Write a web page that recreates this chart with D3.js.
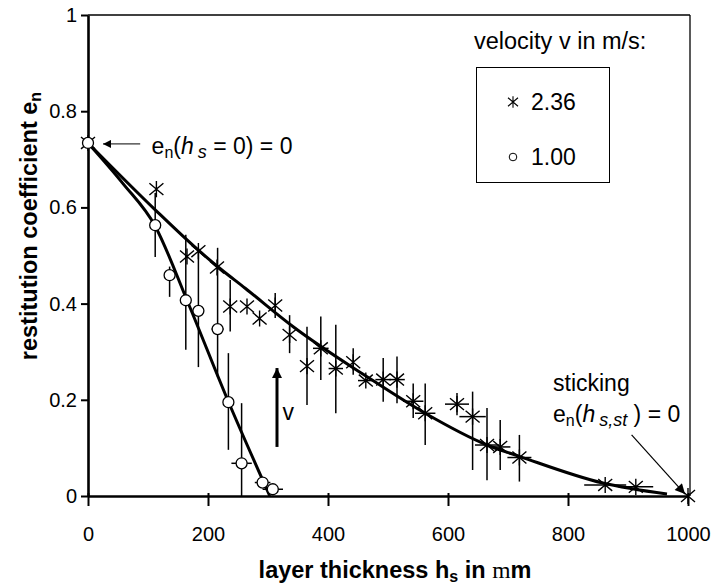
<!DOCTYPE html>
<html>
<head>
<meta charset="utf-8">
<script src="https://cdnjs.cloudflare.com/ajax/libs/d3/7.8.5/d3.min.js"></script>
<style>
    body { margin: 0; background: #fff; }
    text { font-family: "Liberation Sans", Arial, sans-serif; fill: #000; }
</style>
</head>
<body>
<div id="chart"></div>
<script>

// v = 2.36 m/s (asterisks)
var starX  = [0, 114, 165, 184, 215, 237, 265, 286, 312, 336, 365, 388, 413, 442, 463, 492, 515, 542, 562, 615, 641, 665, 687, 719, 862, 913, 1000];
var starY  = [0.734, 0.638, 0.498, 0.509, 0.475, 0.394, 0.394, 0.369, 0.396, 0.335, 0.270, 0.307, 0.265, 0.278, 0.240, 0.242, 0.242, 0.197, 0.172, 0.191, 0.165, 0.106, 0.102, 0.080, 0.023, 0.019, 0];
var starLo = [null, null, null, null, null, 0.342, null, null, 0.370, 0.297, 0.189, 0.241, 0.172, 0.252, null, 0.196, 0.193, 0.162, 0.106, 0.168, 0.054, 0.033, 0.054, 0.030, null, null, null];
var starHi = [null, null, null, null, null, 0.449, null, null, 0.422, 0.376, 0.352, 0.373, 0.356, 0.307, null, 0.287, 0.290, 0.234, 0.234, 0.214, 0.217, 0.183, 0.158, 0.127, null, null, null];
var starXErr = [0, 0, 0, 0, 0, 0, 0, 0, 0, 0, 0, 13, 12, 0, 13, 13, 13, 17, 17, 20, 22, 20, 17, 20, 35, 29, 0];

// v = 1.00 m/s (circles)
var circX  = [0, 112, 136, 163, 184, 216, 234, 256, 291, 308];
var circY  = [0.734, 0.563, 0.459, 0.407, 0.385, 0.347, 0.195, 0.068, 0.028, 0.014];
var circLo = [null, 0.497, 0.414, 0.304, 0.268, 0.247, 0.096, 0, null, null];
var circHi = [null, 0.630, 0.477, 0.543, 0.516, 0.516, 0.297, 0.193, null, null];
var circXErr = [0, 0, 0, 8, 0, 10, 0, 17, 13, 17];

// fitted curves
var fitStarX = [0, 112, 184, 220, 262, 342, 465, 562, 665, 720, 858, 965];
var fitStarY = [0.734, 0.595, 0.511, 0.473, 0.432, 0.352, 0.248, 0.172, 0.106, 0.082, 0.027, 0.004];
var fitCircX = [0, 58, 112, 165, 233, 303];
var fitCircY = [0.734, 0.650, 0.561, 0.407, 0.199, 0];

var xTicks = [0, 200, 400, 600, 800, 1000];
var yTicks = [0, 0.2, 0.4, 0.6, 0.8, 1];
var yTickLabels = ["0", "0.2", "0.4", "0.6", "0.8", "1"];
var legendLabels = ["2.36", "1.00"];


var Chart = (function() {

    var width = 714,
        height = 586,
        margin = {top: 15, right: 26, bottom: 90, left: 88};

    var x = d3.scaleLinear().domain([0, 1000]).range([margin.left, width - margin.right]);
    var y = d3.scaleLinear().domain([0, 1]).range([height - margin.bottom, margin.top]);

    var svg = d3.select("#chart").append("svg")
        .attr("width", width)
        .attr("height", height);

    var starPath = function(s) {
        var dx = s, dy = s * 0.85, v = s * 1.15;
        return "M" + (-dx) + "," + (-dy) + "L" + dx + "," + dy +
               "M" + (-dx) + "," + dy + "L" + dx + "," + (-dy) +
               "M0," + (-v) + "L0," + v;
    };

    var zip = function(xs, ys, lo, hi, xe) {
        return xs.map(function(d, i) {
            return {x: d, y: ys[i], lo: lo ? lo[i] : null, hi: hi ? hi[i] : null, xe: xe ? xe[i] : 0};
        });
    };

    var stars = zip(starX, starY, starLo, starHi, starXErr);
    var circles = zip(circX, circY, circLo, circHi, circXErr);

    // frame top / right
    svg.append("line")
        .attr("x1", x(0)).attr("x2", x(1000) + 2)
        .attr("y1", y(1)).attr("y2", y(1))
        .attr("stroke", "#000").attr("stroke-width", 1.3);
    svg.append("line")
        .attr("x1", x(1000) + 2).attr("x2", x(1000) + 2)
        .attr("y1", y(1)).attr("y2", y(0))
        .attr("stroke", "#000").attr("stroke-width", 1.3);

    // axes
    var yAxis = svg.append("g")
        .attr("transform", "translate(" + x(0) + ",0)")
        .call(d3.axisLeft(y).tickValues(yTicks)
            .tickFormat(function(d, i) { return yTickLabels[i]; })
            .tickSize(7).tickSizeOuter(0).tickPadding(4));

    var xAxis = svg.append("g")
        .attr("transform", "translate(0," + y(0) + ")")
        .call(d3.axisBottom(x).tickValues(xTicks)
            .tickFormat(d3.format("d"))
            .tickSize(10).tickSizeOuter(0).tickPadding(21));

    [xAxis, yAxis].forEach(function(g) {
        g.select(".domain").attr("stroke", "#000").attr("stroke-width", 2.6);
        g.selectAll(".tick line").attr("stroke", "#000").attr("stroke-width", 2);
        g.selectAll(".tick text")
            .style("font-family", "'Liberation Sans', Arial, sans-serif")
            .style("font-size", "20px")
            .attr("fill", "#000");
    });
    xAxis.selectAll(".tick line").attr("y1", -3);

    // error bars
    var allPts = stars.concat(circles);
    svg.append("g").selectAll("line.ev")
        .data(allPts.filter(function(d) { return d.lo !== null; }))
        .enter().append("line")
        .attr("x1", function(d) { return x(d.x); })
        .attr("x2", function(d) { return x(d.x); })
        .attr("y1", function(d) { return y(d.lo); })
        .attr("y2", function(d) { return y(d.hi); })
        .attr("stroke", "#000").attr("stroke-width", 1.5);

    svg.append("g").selectAll("line.eh")
        .data(allPts.filter(function(d) { return d.xe > 0; }))
        .enter().append("line")
        .attr("x1", function(d) { return x(d.x - d.xe); })
        .attr("x2", function(d) { return x(d.x + d.xe); })
        .attr("y1", function(d) { return y(d.y); })
        .attr("y2", function(d) { return y(d.y); })
        .attr("stroke", "#000").attr("stroke-width", 1.5);

    // fit curves
    var line = d3.line()
        .x(function(d) { return x(d[0]); })
        .y(function(d) { return y(d[1]); })
        .curve(d3.curveMonotoneX);

    svg.append("path")
        .datum(d3.zip(fitStarX, fitStarY))
        .attr("d", line)
        .attr("fill", "none").attr("stroke", "#000").attr("stroke-width", 3);

    svg.append("path")
        .datum(d3.zip(fitCircX, fitCircY))
        .attr("d", line)
        .attr("fill", "none").attr("stroke", "#000").attr("stroke-width", 3);

    // markers
    svg.append("g").selectAll("path.star")
        .data(stars)
        .enter().append("path")
        .attr("transform", function(d) { return "translate(" + x(d.x) + "," + y(d.y) + ")"; })
        .attr("d", starPath(7))
        .attr("fill", "none").attr("stroke", "#000").attr("stroke-width", 1.4);

    svg.append("g").selectAll("circle")
        .data(circles)
        .enter().append("circle")
        .attr("cx", function(d) { return x(d.x); })
        .attr("cy", function(d) { return y(d.y); })
        .attr("r", 5.5)
        .attr("fill", "#fff").attr("stroke", "#000").attr("stroke-width", 1.3);

    // arrow heads
    var defs = svg.append("defs");
    defs.append("marker")
        .attr("id", "head").attr("viewBox", "0 0 10 10")
        .attr("refX", 10).attr("refY", 5)
        .attr("markerWidth", 10).attr("markerHeight", 8)
        .attr("markerUnits", "userSpaceOnUse")
        .attr("orient", "auto")
        .append("path").attr("d", "M0,0L10,5L0,10Z").attr("fill", "#000");
    defs.append("marker")
        .attr("id", "headBig").attr("viewBox", "0 0 10 10")
        .attr("refX", 10).attr("refY", 5)
        .attr("markerWidth", 14).attr("markerHeight", 10)
        .attr("markerUnits", "userSpaceOnUse")
        .attr("orient", "auto")
        .append("path").attr("d", "M0,0L10,5L0,10Z").attr("fill", "#000");

    // annotation at h_s = 0
    svg.append("line")
        .attr("x1", x(87)).attr("x2", x(25))
        .attr("y1", y(0.732)).attr("y2", y(0.732))
        .attr("stroke", "#000").attr("stroke-width", 1)
        .attr("marker-end", "url(#head)");

    var t1 = svg.append("text").attr("x", x(106)).attr("y", y(0.71)).style("font-size", "23px");
    t1.append("tspan").text("e");
    t1.append("tspan").attr("dy", 4).style("font-size", "16px").text("n");
    t1.append("tspan").attr("dy", -4).text("(");
    t1.append("tspan").style("font-style", "italic").text("h");
    t1.append("tspan").attr("dx", 4).attr("dy", 4).style("font-style", "italic").style("font-size", "18px").text("s");
    t1.append("tspan").attr("dy", -4).text(" = 0) = 0");

    // sticking annotation
    svg.append("text").attr("x", x(775)).attr("y", y(0.218)).style("font-size", "23px").text("sticking");
    var t2 = svg.append("text").attr("x", x(775)).attr("y", y(0.154)).style("font-size", "23px");
    t2.append("tspan").text("e");
    t2.append("tspan").attr("dy", 4).style("font-size", "16px").text("n");
    t2.append("tspan").attr("dy", -4).text("(");
    t2.append("tspan").style("font-style", "italic").text("h");
    t2.append("tspan").attr("dx", 4).attr("dy", 4).style("font-style", "italic").style("font-size", "18px").text("s,st");
    t2.append("tspan").attr("dy", -4).text(" ) = 0");

    svg.append("line")
        .attr("x1", x(906)).attr("x2", x(995))
        .attr("y1", y(0.127)).attr("y2", y(0.004))
        .attr("stroke", "#000").attr("stroke-width", 1.2)
        .attr("marker-end", "url(#headBig)");

    // velocity arrow
    svg.append("line")
        .attr("x1", x(315)).attr("x2", x(315))
        .attr("y1", y(0.102)).attr("y2", y(0.266))
        .attr("stroke", "#000").attr("stroke-width", 3)
        .attr("marker-end", "url(#headBig)");
    svg.append("text").attr("x", x(324)).attr("y", y(0.157)).style("font-size", "23px").text("v");

    // legend
    svg.append("text").attr("x", 474).attr("y", 49).style("font-size", "23.5px").text("velocity v in m/s:");
    svg.append("rect")
        .attr("x", 476.5).attr("y", 67.5).attr("width", 133).attr("height", 115)
        .attr("fill", "none").attr("stroke", "#000").attr("stroke-width", 1);

    var leg = svg.append("g").selectAll("g")
        .data(legendLabels)
        .enter().append("g")
        .attr("transform", function(d, i) { return "translate(513," + (102 + i * 55) + ")"; });

    leg.filter(function(d, i) { return i === 0; }).append("path")
        .attr("d", starPath(5)).attr("fill", "none").attr("stroke", "#000").attr("stroke-width", 1.1);
    leg.filter(function(d, i) { return i === 1; }).append("circle")
        .attr("r", 3.8).attr("fill", "#fff").attr("stroke", "#000").attr("stroke-width", 1);
    leg.append("text").attr("x", 18).attr("y", 8).style("font-size", "23px").text(function(d) { return d; });

    // axis titles
    var yt = svg.append("text")
        .attr("transform", "translate(37,226) rotate(-90)")
        .attr("text-anchor", "middle")
        .style("font-size", "23.5px").style("font-weight", "bold");
    yt.append("tspan").text("restitution coefficient e");
    yt.append("tspan").attr("dy", 4).style("font-size", "16px").text("n");

    var xt = svg.append("text")
        .attr("x", 395).attr("y", 578)
        .attr("text-anchor", "middle")
        .style("font-size", "23.5px").style("font-weight", "bold");
    xt.append("tspan").text("layer thickness h");
    xt.append("tspan").attr("dy", 4).style("font-size", "16px").text("s");
    xt.append("tspan").attr("dy", -4).text(" in ");
    xt.append("tspan").style("font-family", "'Liberation Serif', serif").style("font-weight", "normal").text("m");
    xt.append("tspan").text("m");

    return { svg: svg };

})();
</script>
</body>
</html>
